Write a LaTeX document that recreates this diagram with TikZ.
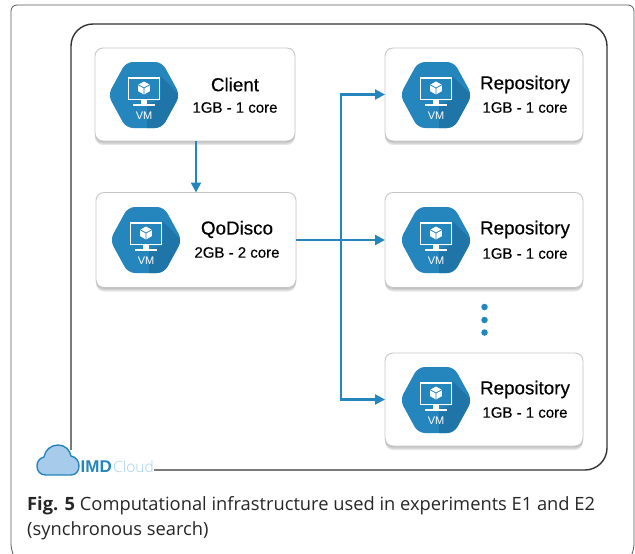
\documentclass[tikz,border=0pt]{standalone}
\usepackage{fontspec}
\setmainfont{Open Sans}
\newfontfamily\lblfont{Liberation Sans}[FakeBold=0.35]
\newfontfamily\subfont{Liberation Sans}[FakeBold=0.3]
\newfontfamily\vmfont{Liberation Sans}
\newfontfamily\logolight{Open Sans Light}
\usetikzlibrary{arrows.meta,shadows}
\definecolor{vmblue}{HTML}{2585BD}
\definecolor{vmdark}{HTML}{1F75A8}
\definecolor{logolt}{HTML}{A3CFEC}
\definecolor{cloudfill}{HTML}{A6CBEB}
\tikzset{
  boxnode/.style={rectangle,draw=black!22,line width=.9pt,fill=white,rounded corners=8pt,inner sep=0pt,outer sep=0pt,
    copy shadow={draw=none,fill=black,opacity=.08,shadow xshift=0pt,shadow yshift=-1pt},
    copy shadow={draw=none,fill=black,opacity=.10,shadow xshift=0pt,shadow yshift=-2.5pt},
    copy shadow={draw=none,fill=black,opacity=.10,shadow xshift=0pt,shadow yshift=-4pt}},
  titletext/.style={font=\lblfont\fontsize{18.8}{20}\selectfont,inner sep=0pt,text=black},
  subtext/.style={font=\subfont\fontsize{15}{16}\selectfont,inner sep=0pt,text=black},
  conn/.style={draw=vmblue,line width=2.1pt},
  arrowed/.style={conn,-{Triangle[length=10pt,width=10pt]}},
  dotnode/.style={circle,fill=vmblue,inner sep=0pt,minimum size=6.5pt},
  pics/vmicon/.style={code={
    \begin{scope}
      \path[clip,rounded corners=7pt] (-36,0) -- (-18,-33) -- (18,-33) -- (36,0) -- (18,33) -- (-18,33) -- cycle;
      \fill[vmblue] (-40,-40) rectangle (40,40);
      \fill[vmdark] (16.5,-19) -- (40,5) -- (40,40) -- (3,40) -- (3,9) -- (16.5,5) -- cycle;
    \end{scope}
    \draw[white,line width=1.4pt] (-15.7,-17) rectangle (15.7,4.5);
    \fill[white] (-3,5) rectangle (3,9);
    \fill[white] (-11,9) rectangle (11,10.8);
    \fill[white] (0,-13.5) -- (5.8,-10.2) -- (5.8,-3.8) -- (0,-.5) -- (-5.8,-3.8) -- (-5.8,-10.2) -- cycle;
    \draw[vmblue,line width=.8pt] (-5.8,-10.2) -- (0,-7) -- (5.8,-10.2) (0,-7) -- (0,-.5);
    \node[text=white,font=\vmfont\fontsize{11}{11}\selectfont,inner sep=0pt] at (0,21) {VM};
  }}
}
\begin{document}
\begin{tikzpicture}[x=1pt,y=-1pt]
\useasboundingbox (0,0) rectangle (635,554);
% outer frame
\draw[black!65,line width=.8pt,rounded corners=6pt] (13,554) -- (11,550) -- (11,5) -- (634,5) -- (634,550) -- (632,554);
% inner frame
\draw[black!80,line width=1.4pt,rounded corners=22pt] (71,450) -- (71,24) -- (607,24) -- (607,470) -- (154,470);
% boxes
\node[boxnode,minimum width=200pt,minimum height=93pt] (c) at (195,94.5) {};
\node[boxnode,minimum width=200pt,minimum height=95pt] (q) at (196,240) {};
\node[boxnode,minimum width=198pt,minimum height=93pt] (r1) at (484,94.5) {};
\node[boxnode,minimum width=198pt,minimum height=95pt] (r2) at (484,240) {};
\node[boxnode,minimum width=198pt,minimum height=93pt] (r3) at (484,399.5) {};
% icons
\pic (ic) at (144,95) {vmicon};
\pic (iq) at (146,240) {vmicon};
\pic (ir1) at (436,95) {vmicon};
\pic (ir2) at (436,240) {vmicon};
\pic (ir3) at (436,400) {vmicon};
% texts
\node[titletext] (ct) at (235,84.5) {Client};
\node[subtext] (cs) at (235,107.5) {1GB - 1 core};
\node[titletext] (qt) at (237,229.5) {QoDisco};
\node[subtext] (qs) at (237,252.5) {2GB - 2 core};
\node[titletext] (r1t) at (525,84.5) {Repository};
\node[subtext] (r1s) at (525,107.5) {1GB - 1 core};
\node[titletext] (r2t) at (525,229.5) {Repository};
\node[subtext] (r2s) at (525,253.5) {1GB - 1 core};
\node[titletext] (r3t) at (525,389.5) {Repository};
\node[subtext] (r3s) at (525,412.5) {1GB - 1 core};
% dots
\node[dotnode] (d1) at (484.5,307) {};
\node[dotnode] (d2) at (484.5,320) {};
\node[dotnode] (d3) at (484.5,332.5) {};
% connectors
\coordinate (bus) at (341,240);
\draw[arrowed] (q.north |- c.south) -- (q.north);
\draw[arrowed] (q.east) -- (r2.west);
\draw[arrowed] (bus) |- (r1.west);
\draw[arrowed] (bus) |- (r3.west);
% logo
\draw[vmblue,fill=cloudfill,line width=1.4pt] (46,475)
  .. controls (40,475) and (37,471) .. (37,466)
  .. controls (37,461) and (40,458) .. (44,457)
  .. controls (45,450) and (51,445) .. (58,445)
  .. controls (65,445) and (70,450) .. (71,456)
  .. controls (76,457) and (79,461) .. (79,466)
  .. controls (79,471) and (76,475) .. (71,475) -- cycle;
\node[anchor=base west,inner sep=0pt,font=\vmfont\bfseries\fontsize{17}{17}\selectfont,text=vmblue] (imd) at (80.5,472) {IMD};
\node[anchor=base west,inner sep=0pt,font=\logolight\fontsize{15.5}{17}\selectfont,text=logolt] (cl) at (113,472) {Cloud};
% caption
\node[anchor=base west,inner sep=0pt,font=\fontsize{18.3}{25}\selectfont,text=black!85] (f1) at (27,510) {\textbf{Fig. 5} Computational infrastructure used in experiments E1 and E2};
\node[anchor=base west,inner sep=0pt,font=\fontsize{18.3}{25}\selectfont,text=black!85] (f2) at (27,535) {(synchronous search)};
\end{tikzpicture}
\end{document}
